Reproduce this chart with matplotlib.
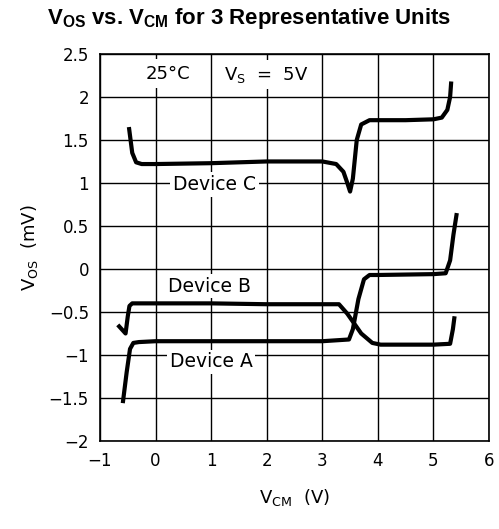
import matplotlib
matplotlib.use("Agg")
import matplotlib.pyplot as plt

plt.rcParams['font.family'] = 'DejaVu Sans'
plt.rcParams['mathtext.fontset'] = 'custom'
plt.rcParams['mathtext.rm'] = 'DejaVu Sans'
plt.rcParams['mathtext.bf'] = 'Liberation Sans:bold'

# device curves
xC = [-0.48, -0.42, -0.35, -0.25, 0, 1, 2, 3.0, 3.25, 3.38, 3.45, 3.5, 3.55, 3.62, 3.7, 3.85, 4.5, 5.0, 5.15, 5.25, 5.3, 5.32]
yC = [1.65, 1.35, 1.24, 1.22, 1.22, 1.23, 1.25, 1.25, 1.22, 1.13, 1.0, 0.90, 1.05, 1.5, 1.68, 1.73, 1.73, 1.74, 1.76, 1.85, 2.0, 2.18]

xB = [-0.68, -0.54, -0.50, -0.47, -0.42, 0, 1, 2, 3.3, 3.45, 3.7, 3.9, 4.05, 5.0, 5.3, 5.35, 5.38]
yB = [-0.65, -0.75, -0.55, -0.43, -0.40, -0.40, -0.40, -0.41, -0.41, -0.52, -0.75, -0.86, -0.88, -0.88, -0.87, -0.70, -0.55]

xA = [-0.59, -0.52, -0.46, -0.40, -0.3, 0, 1, 2, 3.0, 3.48, 3.55, 3.65, 3.75, 3.85, 4.0, 5.0, 5.22, 5.3, 5.36, 5.42]
yA = [-1.56, -1.20, -0.93, -0.86, -0.85, -0.84, -0.84, -0.84, -0.84, -0.82, -0.70, -0.35, -0.12, -0.07, -0.07, -0.06, -0.05, 0.1, 0.4, 0.65]

xticks = [-1, 0, 1, 2, 3, 4, 5, 6]
yticks = [-2, -1.5, -1, -0.5, 0, 0.5, 1, 1.5, 2, 2.5]
ytick_labels = ['\u22122', '\u22121.5', '\u22121', '\u22120.5', '0', '0.5', '1', '1.5', '2', '2.5']
xtick_labels = ['\u22121', '0', '1', '2', '3', '4', '5', '6']

fig = plt.figure(figsize=(4.99, 5.29), dpi=100)
ax = fig.add_axes([0.2004, 0.1664, 0.7796, 0.7316])

for xs, ys in [(xC, yC), (xB, yB), (xA, yA)]:
    ax.plot(xs, ys, color='black', lw=3.0, solid_capstyle='butt', solid_joinstyle='round', zorder=3)

ax.set_xlim(-1, 6)
ax.set_ylim(-2, 2.5)
ax.set_xticks(xticks)
ax.set_xticklabels(xtick_labels)
ax.set_yticks(yticks)
ax.set_yticklabels(ytick_labels)
ax.tick_params(length=0, labelsize=12, pad=8)
ax.grid(True, color='black', lw=1.0, zorder=1)
ax.set_axisbelow(True)
for s in ax.spines.values():
    s.set_linewidth(1.2)

box = dict(facecolor='white', edgecolor='none', pad=2)
ax.text(1.06, 0.98, 'Device C', ha='center', va='center', fontsize=13.5, bbox=box, zorder=2)
ax.text(0.97, -0.20, 'Device B', ha='center', va='center', fontsize=13.5, bbox=box, zorder=2)
ax.text(1.0, -1.08, 'Device A', ha='center', va='center', fontsize=13.5, bbox=box, zorder=2)
ax.text(0.22, 2.27, '25\u00b0C', ha='center', va='center', fontsize=13,
        bbox=dict(facecolor='white', edgecolor='none', pad=4), zorder=2)
ax.text(2.0, 2.26, r'V$_\mathrm{S}$  =  5V', ha='center', va='center', fontsize=13,
        bbox=dict(facecolor='white', edgecolor='none', pad=3), zorder=2)

ax.set_xlabel(r'V$_\mathrm{CM}$  (V)', fontsize=13, labelpad=12)
ax.set_ylabel(r'V$_\mathrm{OS}$  (mV)', fontsize=13, labelpad=6)

fig.text(0.5, 0.965, r'$\mathbf{V_{OS}}$ vs. $\mathbf{V_{CM}}$ for 3 Representative Units',
         ha='center', va='center', fontsize=16, fontweight='bold', family='Liberation Sans')

fig.savefig('out.png', dpi=100)
